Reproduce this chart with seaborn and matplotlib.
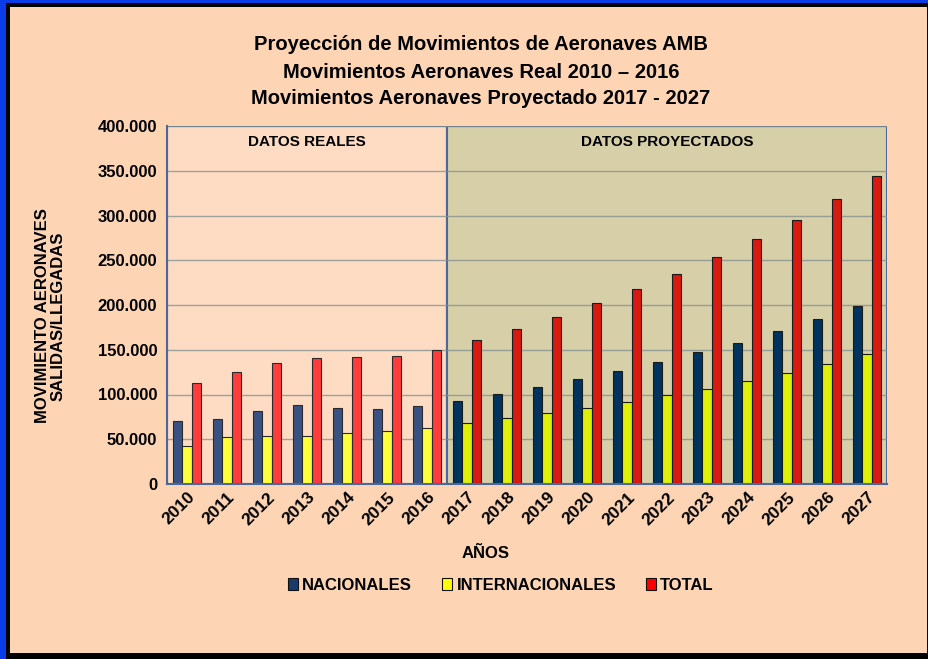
import matplotlib
matplotlib.use("Agg")
import matplotlib.pyplot as plt
import matplotlib.patches as mpatches
from matplotlib.ticker import FuncFormatter, FixedLocator
import seaborn as sns
import pandas as pd

# datos
years = [str(y) for y in range(2010, 2028)]
nacionales = [70400, 72600, 81500, 87900, 84500, 83400, 86800, 93000, 100900,
              108700, 117300, 125900, 135900, 147100, 157900, 170900, 184000, 198800]
internacionales = [42800, 52500, 53600, 53600, 56600, 59200, 62200, 67800, 73400,
                   78900, 84500, 92000, 99000, 106100, 115400, 123600, 133700, 144900]
total = [113000, 125000, 134800, 140400, 141500, 143000, 149300, 160500, 173100,
         186500, 201800, 217400, 234600, 253600, 273300, 294900, 318000, 343700]
series = ["NACIONALES", "INTERNACIONALES", "TOTAL"]
n_reales = 7  # 2010 - 2016

df = pd.DataFrame({"year": years, "NACIONALES": nacionales,
                   "INTERNACIONALES": internacionales, "TOTAL": total})
df = df.melt(id_vars="year", var_name="serie", value_name="value")
reales = df[df["year"].isin(years[:n_reales])]
proyectados = df[df["year"].isin(years[n_reales:])]

colores_reales = ["#3A5282", "#FFFF3C", "#FF3B3B"]
colores_proy = ["#00345E", "#DCF00A", "#D81B10"]
colores_leyenda = ["#1B3A6C", "#FFFF00", "#FF0000"]

PEACH = "#FDD5B4"
PEACH_BOX = "#FDDCC3"
KHAKI = "#D6CFA8"
AXBLUE = "#4A6899"

sns.set_style("white")
plt.rcParams["font.family"] = ["Liberation Sans", "DejaVu Sans"]
plt.rcParams["font.weight"] = "bold"
for k in ["text.color", "axes.labelcolor", "xtick.color", "ytick.color"]:
    plt.rcParams[k] = "black"

fig = plt.figure(figsize=(9.29, 6.59), dpi=100)
fig.patch.set_facecolor("#0A3CE8")
W, H = 929, 659
fig.add_artist(mpatches.Rectangle((6 / W, 0), (W - 6) / W, (H - 3) / H,
                                  transform=fig.transFigure, facecolor="black",
                                  edgecolor="none", zorder=-20))
fig.add_artist(mpatches.Rectangle((10 / W, 6 / H), (927 - 10) / W, (653 - 7) / H,
                                  transform=fig.transFigure, facecolor=PEACH,
                                  edgecolor="none", zorder=-19))

ax = fig.add_axes([167 / W, 1 - 484 / H, 720 / W, 358 / H])
ax.set_facecolor("none")

# cajas de fondo: datos reales / proyectados
ax.add_patch(mpatches.Rectangle((-0.5, 0), n_reales, 400000, facecolor=PEACH_BOX,
                                edgecolor=AXBLUE, linewidth=1.5, zorder=0.2))
ax.add_patch(mpatches.Rectangle((n_reales - 0.5, 0), len(years) - n_reales, 400000,
                                facecolor=KHAKI, edgecolor=AXBLUE, linewidth=1.5,
                                zorder=0.2))
for v in range(50000, 400001, 50000):
    ax.axhline(v, color="#7F8F8F", linewidth=1, alpha=0.75, zorder=0.5)

sns.barplot(data=reales, x="year", y="value", hue="serie", order=years,
            hue_order=series, palette=colores_reales, width=0.68, errorbar=None,
            saturation=1, edgecolor="#2A2A2A", linewidth=0.8, legend=False, ax=ax)
sns.barplot(data=proyectados, x="year", y="value", hue="serie", order=years,
            hue_order=series, palette=colores_proy, width=0.68, errorbar=None,
            saturation=1, edgecolor="#1A1A1A", linewidth=0.8, legend=False, ax=ax)
for p in ax.patches[2:]:
    p.set_zorder(2)

ax.set_xlim(-0.5, len(years) - 0.5)
ax.set_ylim(0, 400000)
ax.yaxis.set_major_locator(FixedLocator(range(0, 400001, 50000)))
ax.yaxis.set_major_formatter(FuncFormatter(lambda v, _: f"{int(v):,}".replace(",", ".")))
ax.set_xlabel("")
ax.set_ylabel("")

for s in ["top", "right"]:
    ax.spines[s].set_visible(False)
for s in ["left", "bottom"]:
    ax.spines[s].set_color(AXBLUE)
    ax.spines[s].set_linewidth(1.5)
    ax.spines[s].set_zorder(3)

ax.tick_params(axis="y", length=4, color=AXBLUE, labelsize=12, pad=3)
ax.tick_params(axis="x", which="major", length=0, labelsize=12.5, pad=4)
ax.set_xticks([i - 0.5 for i in range(len(years) + 1)], minor=True)
ax.tick_params(axis="x", which="minor", length=5, color=AXBLUE, width=1)
plt.setp(ax.get_xticklabels(), rotation=45, ha="right", rotation_mode="anchor",
         fontweight="bold")
plt.setp(ax.get_yticklabels(), fontweight="bold")

ax.text(3, 382000, "DATOS REALES", ha="center", va="center", fontsize=11,
        fontweight="bold", zorder=4)
ax.text(12, 382000, "DATOS PROYECTADOS", ha="center", va="center", fontsize=11,
        fontweight="bold", zorder=4)

titulos = ["Proyección de Movimientos de Aeronaves AMB",
           "Movimientos Aeronaves Real 2010 – 2016",
           "Movimientos Aeronaves Proyectado 2017 - 2027"]
for t, yp in zip(titulos, [45, 72, 98]):
    fig.text(481 / W, 1 - yp / H, t, ha="center", va="center", fontsize=14.5,
             fontweight="bold")

fig.text(50 / W, 1 - 316 / H, "MOVIMIENTO AERONAVES\nSALIDAS/LLEGADAS", rotation=90,
         ha="center", va="center", multialignment="center", fontsize=12,
         fontweight="bold", linespacing=1.05)
fig.text(486 / W, 1 - 553 / H, "AÑOS", ha="center", va="center", fontsize=12,
         fontweight="bold")

handles = [mpatches.Patch(facecolor=c, edgecolor="#111111", linewidth=0.8)
           for c in colores_leyenda]
fig.legend(handles, series, loc="center", bbox_to_anchor=(501 / W, 1 - 585 / H),
           ncol=3, frameon=False, handlelength=0.6, handleheight=0.75,
           handletextpad=0.25, columnspacing=1.8,
           prop={"weight": "bold", "size": 12})

fig.savefig("out.png", dpi=100, facecolor=fig.get_facecolor())
